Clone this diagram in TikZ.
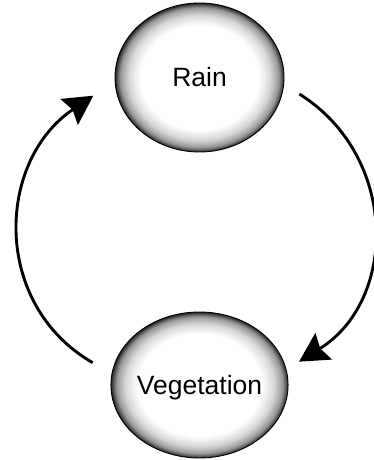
\documentclass[tikz,border=0pt]{standalone}
\usepackage{fontspec}
\setmainfont{Liberation Sans}
\usepackage{tikz}
\usetikzlibrary{arrows.meta,shapes.geometric}

\pgfdeclareradialshading{orbshade}{\pgfpoint{0bp}{0bp}}{%
    color(0bp)=(white); color(17.5bp)=(white); color(21bp)=(black!16);
    color(23.4bp)=(black!40); color(24.5bp)=(black!70); color(25bp)=(black!88);
    color(50bp)=(black!88)}

\begin{document}
\begin{tikzpicture}[
        x=1pt, y=1pt,
        font=\fontsize{26.5}{30}\selectfont,
        orb/.style={
            ellipse,
            draw=black,
            line width=0.9pt,
            shading=orbshade,
            inner sep=0pt,
            minimum width=169pt,
            text height=19pt,
            text depth=0pt
        },
        cyclearrow/.style={-{Stealth[length=29pt,width=31pt,inset=4pt]}, line width=2.9pt}
    ]
        \useasboundingbox (0,0) rectangle (374,460);

        \node[orb, minimum height=149pt] (rain) at (199.5,382.5) {Rain\hspace{14pt}};
        \node[orb, minimum height=146pt] (veg) at (199.5,75) {Vegetation};

        \coordinate (rainout) at (299.3,366);
        \coordinate (vegin) at (299,98.3);
        \coordinate (vegout) at (92.7,97.3);
        \coordinate (rainin) at (93.3,364.3);

        \draw[cyclearrow] (rainout) to[out=-32, in=32, looseness=1.12] (vegin);
        \draw[cyclearrow] (vegout) to[out=150, in=214, looseness=1.12] (rainin);
    \end{tikzpicture}
\end{document}
